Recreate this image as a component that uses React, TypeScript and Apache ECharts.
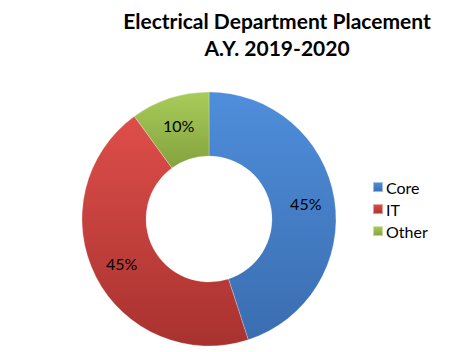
import React, { useEffect, useRef } from "react";
import * as echarts from "echarts";

const categories = ["Core", "IT", "Other"];
const values = [45, 45, 10];
const titleLines = ["Electrical Department Placement", "A.Y. 2019-2020"];

const colorPairs: [string, string][] = [
  ["#4F8EDB", "#3A6DB0"],
  ["#DE4E4A", "#A8322F"],
  ["#A8CC5A", "#84A23E"],
];

export default function App() {
  const ref = useRef<HTMLDivElement>(null);
  useEffect(() => {
    if (!ref.current) return;
    const chart = echarts.init(ref.current, undefined, { renderer: "svg" });
    const data = categories.map((name, i) => ({
      name,
      value: values[i],
      itemStyle: {
        color: new echarts.graphic.LinearGradient(0, 0, 0, 1, [
          { offset: 0, color: colorPairs[i][0] },
          { offset: 1, color: colorPairs[i][1] },
        ]),
      },
    }));
    chart.setOption({
      animation: false,
      backgroundColor: "#ffffff",
      title: {
        text: titleLines.join("\n"),
        left: 272,
        textAlign: "center",
        top: 2,
        textStyle: {
          fontFamily: "Lato",
          fontWeight: "bold",
          fontSize: 21,
          lineHeight: 27,
          color: "#000000",
        },
      },
      legend: {
        orient: "vertical",
        left: 367,
        top: 174,
        itemWidth: 10,
        itemHeight: 10,
        itemGap: 6,
        icon: "rect",
        data: categories,
        textStyle: {
          fontFamily: "Lato",
          fontSize: 16,
          color: "#000000",
          padding: [0, 0, 0, -2],
        },
      },
      series: [
        {
          type: "pie",
          center: [209, 219],
          radius: [63, 127],
          startAngle: 90,
          clockwise: true,
          avoidLabelOverlap: false,
          itemStyle: { borderColor: "rgba(255,255,255,0.5)", borderWidth: 0.5 },
          label: {
            show: true,
            position: "inside",
            formatter: "{c}%",
            fontFamily: "Lato",
            fontSize: 16,
            color: "#000000",
          },
          labelLine: { show: false },
          data,
        },
      ],
    });
    return () => chart.dispose();
  }, []);
  return (
    <div
      ref={ref}
      style={{ position: "fixed", left: 0, top: 0, width: 475, height: 352 }}
    />
  );
}
